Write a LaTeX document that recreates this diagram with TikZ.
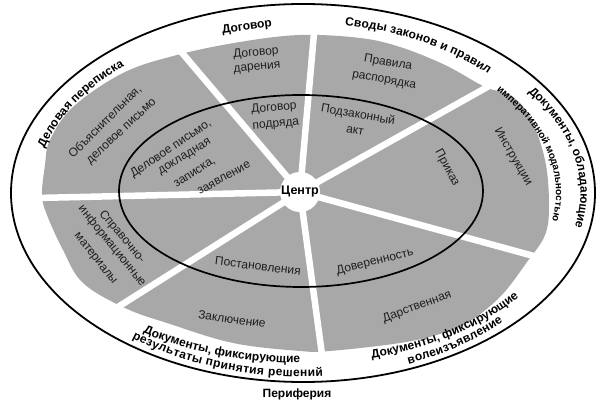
\documentclass[tikz,border=0pt]{standalone}
\usepackage{fontspec}
\setmainfont{Liberation Sans}
\usetikzlibrary{decorations.text}
\definecolor{secgray}{RGB}{168,168,168}
\definecolor{labtxt}{RGB}{30,30,30}
\newcommand\olab{\bfseries\fontsize{12}{14}\selectfont}
\newcommand\olabs{\bfseries\fontsize{10}{12}\selectfont}
\newcommand\ilab{\fontsize{12}{14}\selectfont}
\newcommand\arclabel[5]{\path[decorate,decoration={text along path,text={|\olab|#5},text align={fit to path}}] (302,214) ++(#3:#1pt and #2pt) arc[start angle=#3,end angle=#4,x radius=#1pt,y radius=#2pt];}
\begin{document}
\begin{tikzpicture}[x=1pt,y=1pt,
  spoke/.style={white,line width=6.5pt},
  lab/.style={font=\ilab,text=labtxt,inner sep=0pt,align=center},
  olabel/.style={font=\olab,text=black,inner sep=0pt}]
\useasboundingbox (0,0) rectangle (600,407);
\fill[white] (0,0) rectangle (600,407);
% gray sectors area
\fill[secgray] plot[smooth cycle,tension=0.6] coordinates {
 (42,212) (45,242) (50,267) (73,300) (123,334) (177,352) (240,365) (300,372)
 (360,369) (400,360) (445,342) (485,320) (510,312) (530,290) (545,247) (549,202)
 (545,172) (527,145) (500,110) (467,84) (440,73) (400,64) (330,56) (300,56)
 (233,64) (167,84) (125,99) (83,124) (63,157) (47,192)};
% spokes
\coordinate (ctr) at (300,215);
\coordinate (s1) at (172,366);
\coordinate (s2) at (315,385);
\coordinate (s3) at (498,326);
\coordinate (s4) at (541,149);
\coordinate (s5) at (323,45);
\coordinate (s6) at (110,95);
\coordinate (s7) at (36,209);
\foreach \s in {s1,s2,s3,s4,s5,s6,s7} \draw[spoke] (ctr) -- (\s);
% inner ellipse
\draw[line width=1.7pt] (301,216) ellipse [x radius=182pt, y radius=96pt];
% centre
\node[circle,fill=white,minimum size=40pt,inner sep=0pt,font=\bfseries\fontsize{12.5}{14}\selectfont] (centre) at (ctr) {Центр};
% inner labels
\node[lab,rotate=45] (l1) at (105,285) {Объяснительная,};
\node[lab,rotate=43] (l2) at (122,275) {деловое письмо};
\node[lab,rotate=34] (l3) at (171,258) {Деловое письмо,};
\node[lab,rotate=31] (l4) at (185,250) {докладная};
\node[lab,rotate=33] (l5) at (195,234) {записка,};
\node[lab,rotate=29] (l6) at (224,229) {заявление};
\node[lab,rotate=5] (l7) at (256,354) {Договор};
\node[lab,rotate=5] (l8) at (257,339) {дарения};
\node[lab,rotate=5] (l9) at (274,299) {Договор};
\node[lab,rotate=5] (l10) at (276,282) {подряда};
\node[lab,rotate=-10] (l11) at (388,344) {Правила};
\node[lab,rotate=-10] (l12) at (384,326) {распорядка};
\node[lab,rotate=-10] (l13) at (358,292) {Подзаконный};
\node[lab,rotate=-10] (l14) at (355,276) {акт};
\node[lab,rotate=-62] (l15) at (447,239) {Приказ};
\node[lab,rotate=-60] (l16) at (513,250) {Инструкции};
\node[lab,rotate=-50] (l17) at (122,170) {Справочно-};
\node[lab,rotate=-51] (l18) at (112,161) {информационные};
\node[lab,rotate=-52] (l19) at (95,148) {материалы};
\node[lab,rotate=-7] (l20) at (258,141) {Постановления};
\node[lab,rotate=-8] (l21) at (232,88) {Заключение};
\node[lab,rotate=14] (l22) at (375,145) {Доверенность};
\node[lab,rotate=20] (l23) at (417,100) {Дарственная};
% outer ellipse
\draw[line width=1.8pt] (303,214) ellipse [x radius=292pt, y radius=189pt];
% outer ring labels
\node[olabel,rotate=8] (dog) at (247,380) {Договор};
\node[olabel] (per) at (297,13) {Периферия};
\arclabel{267}{170}{164.7}{132.5}{Деловая переписка}
\arclabel{260}{170.3}{80.5}{44.3}{Своды законов и правил}
\arclabel{278.4}{172.9}{35.7}{-11.3}{Документы, обладающие}
\path[decorate,decoration={text along path,text={|\olabs|императивной модальностью},text align={left}}] (302,214) ++(40:254pt and 158.7pt) arc[start angle=40,end angle=-25,x radius=254pt,y radius=158.7pt];
\arclabel{274}{170.7}{-75.2}{-38}{Документы, фиксирующие}
\arclabel{280}{185}{-67.6}{-44.1}{волеизъявление}
\arclabel{280}{170}{-124.6}{-90.4}{Документы, фиксирующие}
\arclabel{277.3}{183.5}{-127.8}{-85.7}{результаты принятия решений}
\end{tikzpicture}
\end{document}
